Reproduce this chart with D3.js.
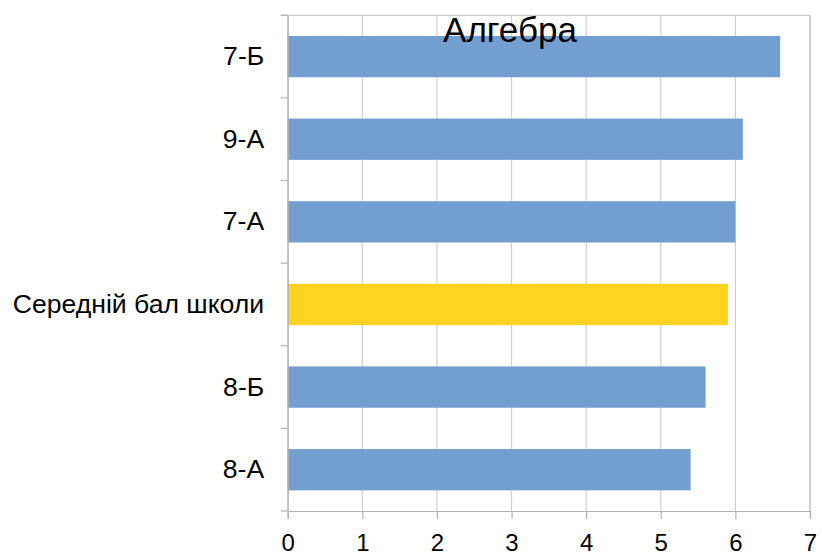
<!DOCTYPE html>
<html>
<head>
<meta charset="utf-8">
<script src="https://cdn.jsdelivr.net/npm/d3@7"></script>
<style>
  body { margin: 0; background: #fff; }
  text { font-family: "Liberation Sans", Arial, sans-serif; fill: #000; }
</style>
</head>
<body>
<svg id="chart" width="822" height="555"></svg>
<script>
  var categories = ['7-Б', '9-А', '7-А', 'Середній бал школи', '8-Б', '8-А'];
  var scores = [6.6, 6.1, 6.0, 5.9, 5.6, 5.4];
  var highlight = 'Середній бал школи';
  var xTicks = [0, 1, 2, 3, 4, 5, 6, 7];

  var margin = {top: 15.3, right: 12, bottom: 44, left: 287.7};
  var width = 822, height = 555;

  var svg = d3.select('#chart');

  var x = d3.scaleLinear().domain([0, 7]).range([margin.left, width - margin.right]);
  var y = d3.scaleBand().domain(categories)
    .range([margin.top, height - margin.bottom]).paddingInner(0.5).paddingOuter(0.25);

  // vertical grid
  svg.append('g').selectAll('line').data(xTicks).enter().append('line')
    .attr('x1', d => x(d)).attr('x2', d => x(d))
    .attr('y1', margin.top).attr('y2', height - margin.bottom)
    .attr('stroke', d => d === 7 ? '#b3b3b3' : '#d0d0d0')
    .attr('stroke-width', 1.2);

  // top border
  svg.append('line')
    .attr('x1', margin.left - 7).attr('x2', x(7))
    .attr('y1', margin.top).attr('y2', margin.top)
    .attr('stroke', '#d0d0d0').attr('stroke-width', 1.2);

  // bars
  svg.append('g').selectAll('rect').data(categories).enter().append('rect')
    .attr('x', x(0))
    .attr('y', d => y(d))
    .attr('width', (d, i) => x(scores[i]) - x(0))
    .attr('height', y.bandwidth())
    .attr('fill', d => d === highlight ? '#ffd320' : '#729fcf');

  // x axis
  var xAxis = svg.append('g')
    .attr('transform', 'translate(0,' + (height - margin.bottom) + ')')
    .call(d3.axisBottom(x).tickValues(xTicks).tickSize(8).tickPadding(0).tickFormat(d3.format('d')));
  xAxis.select('.domain').attr('stroke', '#b3b3b3').attr('stroke-width', 1.2);
  xAxis.selectAll('.tick line').attr('stroke', '#b3b3b3').attr('stroke-width', 1.2);
  xAxis.selectAll('text').style('font-size', '24px').attr('y', 40).attr('dy', null);

  // y axis
  var yAxis = svg.append('g')
    .attr('transform', 'translate(' + margin.left + ',0)')
    .call(d3.axisLeft(y).tickSize(0).tickPadding(23.5));
  yAxis.select('.domain').attr('stroke', '#b3b3b3').attr('stroke-width', 1.2);
  yAxis.selectAll('text').style('font-size', '26.6px');

  // category separator ticks
  var bounds = d3.range(categories.length + 1).map(i => margin.top + i * (height - margin.bottom - margin.top) / categories.length);
  svg.append('g').selectAll('line').data(bounds).enter().append('line')
    .attr('x1', margin.left - 7).attr('x2', margin.left)
    .attr('y1', d => d).attr('y2', d => d)
    .attr('stroke', '#b3b3b3').attr('stroke-width', 1.2);

  svg.append('text')
    .attr('x', 510).attr('y', 42)
    .attr('text-anchor', 'middle')
    .style('font-size', '35px')
    .text('Алгебра');
</script>
</body>
</html>
